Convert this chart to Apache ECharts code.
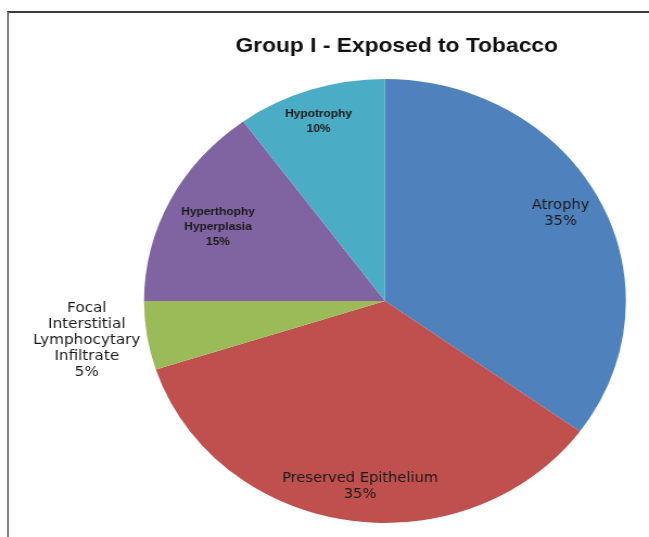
<!DOCTYPE html>
<html>
<head>
<meta charset="utf-8">
<script src="https://cdn.jsdelivr.net/npm/echarts@6/dist/echarts.min.js"></script>
<style>
  html, body { margin: 0; padding: 0; background: #fff; overflow: hidden; }
  #frame { position: absolute; left: 7px; top: 11px; width: 660px; height: 560px;
           border-left: 2px solid #7d7d7d; border-top: 2px solid #3c3c3c; box-sizing: border-box; }
  #chart { position: absolute; left: 0; top: 0; width: 598px; height: 537px;
           transform: scaleX(1.0853); transform-origin: 0 0; }
</style>
</head>
<body>
<div id="frame"></div>
<div id="chart"></div>
<script>
const title = 'Group I - Exposed to Tobacco';
const categories = ['Atrophy', 'Preserved Epithelium', 'Focal\nInterstitial\nLymphocytary\nInfiltrate', 'Hyperthophy\nHyperplasia', 'Hypotrophy'];
const values = [35, 35, 5, 15, 10];
const colors = ['#4F81BD', '#C0504D', '#9BBB59', '#8064A2', '#4BACC6'];

const labelNudge = [[-3, -4], [6, 3], [-92, 10], [11, 10], [-4, -4]];
const bigFont = { fontFamily: 'DejaVu Sans', fontSize: 13.5, fontWeight: 'normal', lineHeight: 16, color: '#1a1a1a' };
const focalFont = { fontFamily: 'DejaVu Sans', fontSize: 14, fontWeight: 'normal', lineHeight: 16, color: '#1a1a1a' };
const smallFont = { fontFamily: 'Liberation Sans', fontSize: 11, fontWeight: 'bold', lineHeight: 15, color: '#1a1a1a' };
const labelFonts = [bigFont, bigFont, focalFont, smallFont, smallFont];

const chart = echarts.init(document.getElementById('chart'), null, { renderer: 'canvas' });
const center = [354.7, 301];
chart.setOption({
  animation: false,
  title: {
    text: title,
    left: 360.5, top: 31,
    textAlign: 'center',
    textStyle: { fontFamily: 'Liberation Sans', fontSize: 21, fontWeight: 'bold', color: '#111' }
  },
  series: [
    {
      type: 'pie',
      center: center,
      radius: [0, 222],
      startAngle: 90,
      clockwise: true,
      silent: true,
      label: { show: false },
      labelLine: { show: false },
      itemStyle: { borderWidth: 0 },
      data: categories.map((c, i) => ({ name: c, value: values[i], itemStyle: { color: colors[i] } }))
    },
    {
      type: 'pie',
      center: center,
      radius: [142, 222],
      startAngle: 90,
      clockwise: true,
      silent: true,
      avoidLabelOverlap: false,
      itemStyle: { color: 'rgba(0,0,0,0)', borderWidth: 0 },
      emphasis: { disabled: true },
      labelLine: { show: false },
      label: { show: true, position: 'inside', formatter: '{b}\n{d}%', align: 'center' },
      labelLayout: function (p) {
        return { dx: labelNudge[p.dataIndex][0], dy: labelNudge[p.dataIndex][1] };
      },
      data: categories.map((c, i) => ({ name: c, value: values[i], label: Object.assign({}, labelFonts[i]) }))
    }
  ]
});
</script>
</body>
</html>
